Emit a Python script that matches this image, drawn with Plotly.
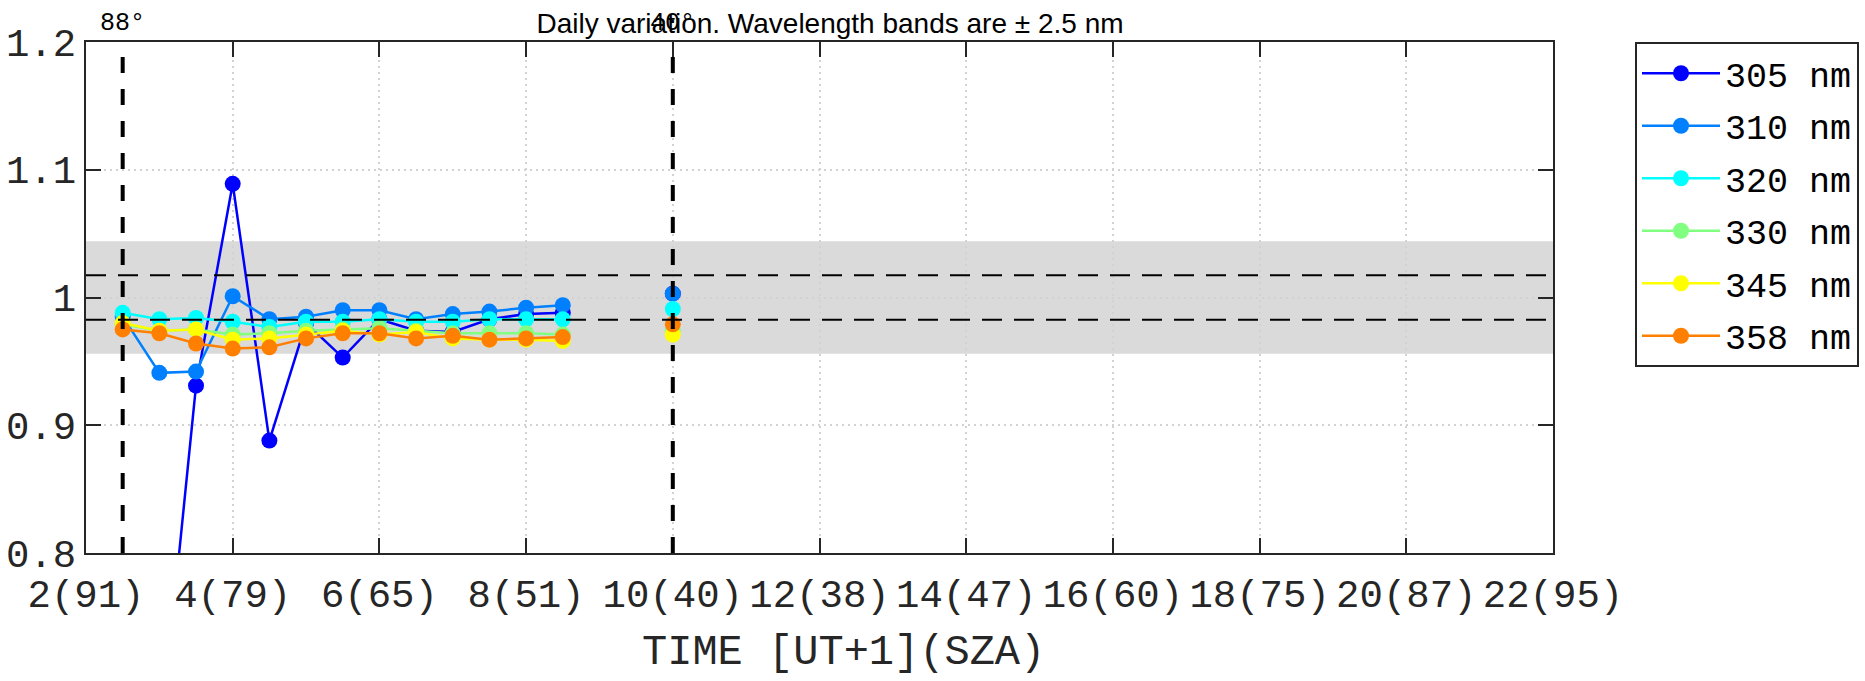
import plotly.graph_objects as go

# Measurement times (hours, UT+1); 9.0 and 9.5 are gaps in the record
time_h = [2.5, 3.0, 3.5, 4.0, 4.5, 5.0, 5.5, 6.0, 6.5, 7.0, 7.5, 8.0, 8.5, 9.0, 9.5, 10.0]

# Daily ratio per wavelength band
r305 = [None, 0.646, 0.931, 1.089, 0.888, 0.980, 0.953, 0.983, 0.974, 0.973, 0.983, 0.987, 0.988, None, None, 1.003]
r310 = [0.985, 0.941, 0.942, 1.001, 0.983, 0.985, 0.990, 0.990, 0.983, 0.987, 0.989, 0.992, 0.994, None, None, 1.003]
r320 = [0.988, 0.983, 0.984, 0.981, 0.977, 0.981, 0.981, 0.983, 0.981, 0.981, 0.983, 0.983, 0.983, None, None, 0.991]
r330 = [0.979, 0.974, 0.975, 0.971, 0.972, 0.974, 0.975, 0.976, 0.974, 0.972, 0.972, 0.972, 0.971, None, None, 0.974]
r345 = [0.980, 0.974, 0.975, 0.967, 0.968, 0.971, 0.974, 0.971, 0.973, 0.968, 0.967, 0.967, 0.966, None, None, 0.971]
r358 = [0.975, 0.972, 0.964, 0.960, 0.961, 0.968, 0.972, 0.972, 0.968, 0.970, 0.967, 0.968, 0.969, None, None, 0.979]

band_names = ["305 nm", "310 nm", "320 nm", "330 nm", "345 nm", "358 nm"]
band_values = [r305, r310, r320, r330, r345, r358]
band_colors = ["#0000FF", "#0080FF", "#00FFFF", "#80FF80", "#FFFF00", "#FF8000"]

# Axis ticks: hour with solar zenith angle in brackets
x_ticks = [2, 4, 6, 8, 10, 12, 14, 16, 18, 20, 22]
x_tick_text = ["2(91)", "4(79)", "6(65)", "8(51)", "10(40)", "12(38)",
               "14(47)", "16(60)", "18(75)", "20(87)", "22(95)"]
y_ticks = [0.8, 0.9, 1.0, 1.1, 1.2]
y_tick_text = ["0.8", "0.9", "1", "1.1", "1.2"]

# Reference levels
tol_outer = (0.956, 1.044)
tol_inner = (0.9825, 1.0175)
sza_marks = [(2.5, "88°"), (10.0, "40°")]

MONO = "Liberation Mono, Courier New, monospace"
SANS = "Liberation Sans, Arial, sans-serif"
INK = "#262626"

L, R, T, B = 86, 312, 42, 128
W, H = 1865, 681
PW, PH = W - L - R, H - T - B

fig = go.Figure()

for name, vals, col in zip(band_names, band_values, band_colors):
    fig.add_trace(go.Scatter(
        x=time_h, y=vals, name=name, mode="lines+markers",
        legendgroup=name,
        line=dict(color=col, width=2.5),
        marker=dict(color=col, size=16, symbol="circle"),
        connectgaps=False,
    ))

# grey tolerance band
fig.add_shape(type="rect", xref="x", yref="y", x0=2, x1=22,
              y0=tol_outer[0], y1=tol_outer[1],
              fillcolor="#DADADA", line_width=0, layer="below")

# dashed inner limits
for yv in tol_inner:
    fig.add_shape(type="line", xref="x", yref="y", x0=2, x1=22, y0=yv, y1=yv,
                  line=dict(color="black", width=2, dash="20px,12px"), layer="above")

# solar zenith angle markers
for xv, lab in sza_marks:
    fig.add_shape(type="line", xref="x", yref="y", x0=xv, x1=xv, y0=0.8, y1=1.2,
                  line=dict(color="black", width=4, dash="16px,16px"), layer="above")
    fig.add_annotation(x=xv, xref="x", y=1, yref="paper", yanchor="bottom",
                       text=lab, showarrow=False, yshift=2,
                       font=dict(family=MONO, size=25, color="black"))

# x-axis caption
fig.add_annotation(x=(843 - L) / PW, xref="paper", y=-(681 - 2 - (T + PH)) / PH, yref="paper",
                   yanchor="bottom", text="TIME [UT+1](SZA)", showarrow=False,
                   font=dict(family=MONO, size=42, color=INK))

fig.update_layout(
    width=W, height=H,
    margin=dict(l=L, r=R, t=T, b=B, autoexpand=False),
    paper_bgcolor="white", plot_bgcolor="white",
    title=dict(text="Daily variation. Wavelength bands are ± 2.5 nm",
               x=(830 - L) / PW, xref="paper", xanchor="center",
               y=1, yref="paper", yanchor="bottom", pad=dict(b=9),
               font=dict(family=SANS, size=28, color="black")),
    showlegend=True,
    legend=dict(x=(1635 - L) / PW, xanchor="left", y=1.0, yanchor="top",
                bordercolor=INK, borderwidth=2, bgcolor="white",
                font=dict(family=MONO, size=35, color="black"),
                itemwidth=78, tracegroupgap=4),
)

axis_style = dict(
    showline=True, linecolor=INK, linewidth=2, mirror="ticks",
    ticks="inside", ticklen=15, tickwidth=2, tickcolor=INK,
    showgrid=True, gridcolor="#D2D2D2", griddash="2px,4px", gridwidth=1.5,
    zeroline=False, automargin=False,
    tickfont=dict(family=MONO, size=39, color=INK),
)
fig.update_xaxes(range=[2, 22], tickvals=x_ticks, ticktext=x_tick_text,
                 ticklabelstandoff=5, **axis_style)
fig.update_yaxes(range=[0.8, 1.2], tickvals=y_ticks, ticktext=y_tick_text,
                 **axis_style)

fig.write_html("out.html")
